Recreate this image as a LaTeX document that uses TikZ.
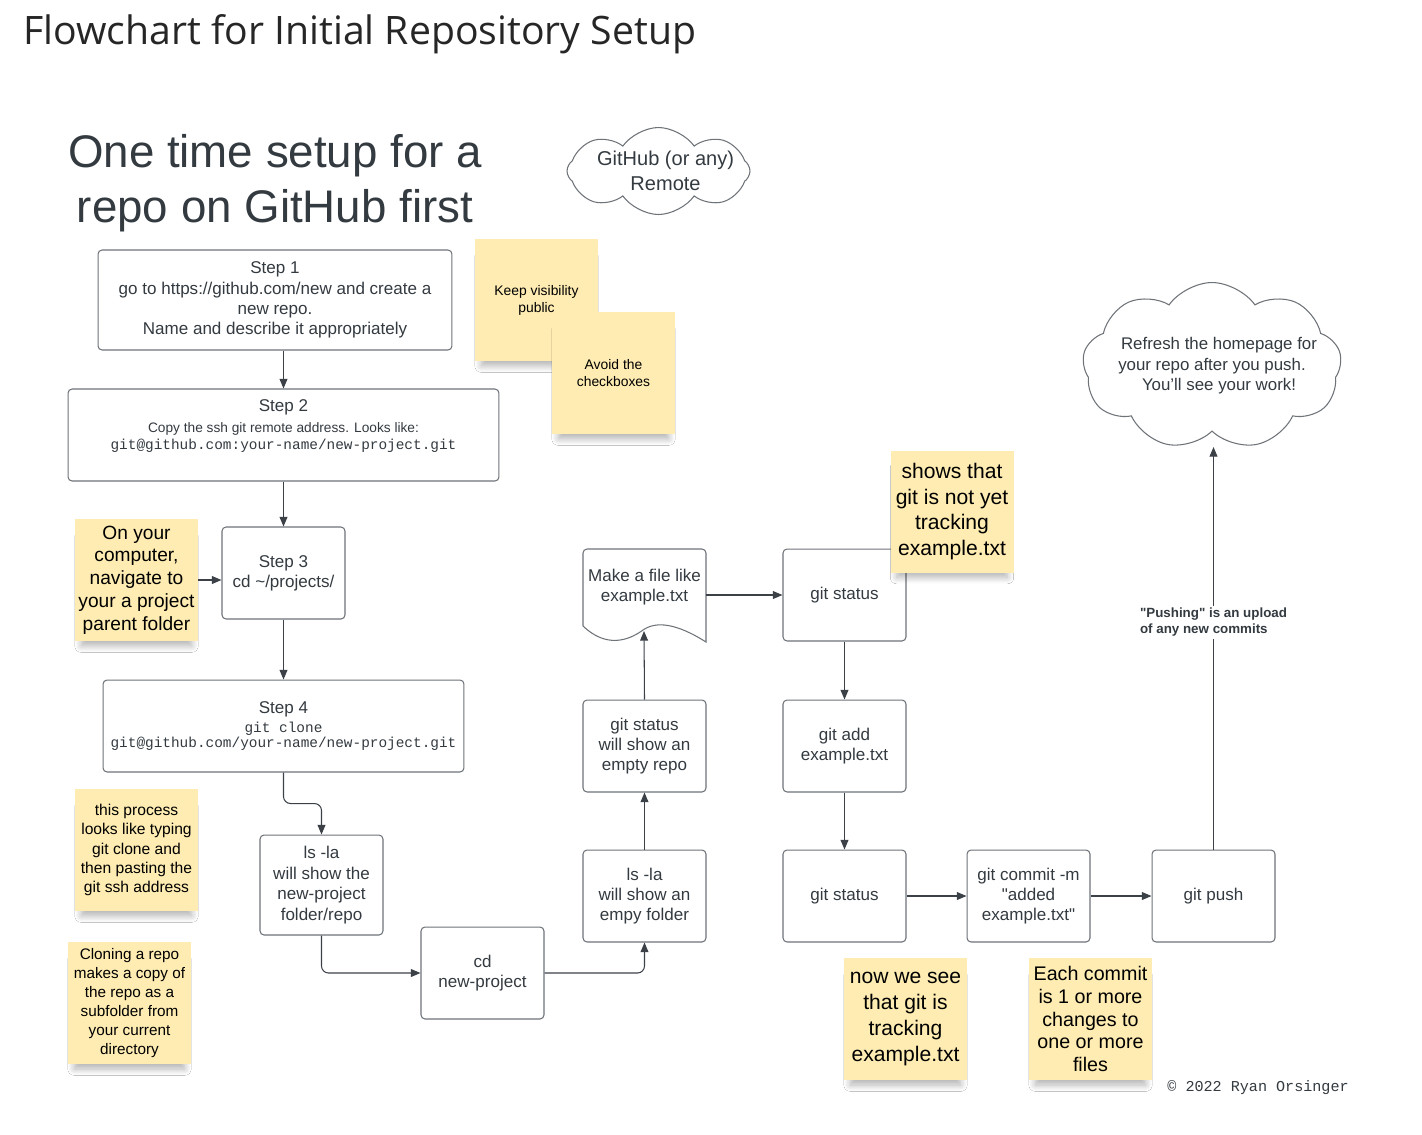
\documentclass[tikz,border=0pt]{standalone}
\usepackage{fontspec}
\setmainfont{Liberation Sans}
\setmonofont{Liberation Mono}
\newfontfamily\titlefont{Open Sans}
\usetikzlibrary{shapes.symbols,arrows.meta,shadows.blur}
\definecolor{ink}{HTML}{333A40}
\definecolor{edge}{HTML}{6E7378}
\definecolor{wire}{HTML}{3C4148}
\definecolor{sticky}{RGB}{254,236,178}
\tikzset{
  box/.style={draw=edge, line width=0.6pt, rounded corners=2.3pt, fill=white, align=center, text=ink,
    inner sep=0pt, minimum width=2.46cm, minimum height=1.84cm, font=\fontsize{9.7}{11.6}\selectfont},
  note/.style={fill=sticky, align=center, text=black, inner sep=0pt, minimum width=2.46cm, minimum height=2.44cm,
    blur shadow={shadow xshift=0pt, shadow yshift=-7pt, shadow scale=0.9, shadow blur steps=12,
      shadow blur radius=4pt, shadow opacity=30}},
  puff/.style={cloud, cloud puff arc=110, cloud ignores aspect, draw=edge, line width=0.6pt,
    fill=white, align=center, text=ink, inner xsep=-14pt, inner ysep=0pt},
  arr/.style={draw=wire, line width=0.6pt, -{Triangle[length=5.5pt,width=4.5pt]}},
}
\begin{document}
\begin{tikzpicture}[x=0.02cm, y=-0.02cm]
    \fill[white] (0,0) rectangle (1422,1134);
    \useasboundingbox (0,0) rectangle (1422,1134);

    \node[anchor=base west, inner sep=0pt, font=\titlefont\fontsize{22.3}{26}\selectfont, text=black!85] (title) at (23,44) {Flowchart for Initial Repository Setup};
    \node[align=center, inner sep=0pt, font=\fontsize{26}{31}\selectfont, text=ink] (heading) at (275,183) {One time setup for a\\repo on GitHub first};
    \node[puff, cloud puffs=8, minimum width=3.66cm, minimum height=1.74cm, font=\fontsize{11.4}{14}\selectfont] (remote) at (658.5,171) {\hspace*{8pt}GitHub (or any)\\\hspace*{8pt}Remote};

    \node[box, minimum width=7.08cm, minimum height=2.0cm] (step1) at (275,300) {Step 1\\go to https://github.com/new and create a\\new repo.\\Name and describe it appropriately};
    \node[box, minimum width=8.62cm] (step2) at (283.5,435) {Step 2\\{\fontsize{7.8}{9}\selectfont Copy the ssh git remote address. Looks like:}\\[-1.5pt]
        {\ttfamily\fontsize{8.2}{10}\selectfont git@github.com:your-name/new-project.git}\\ \mbox{}};
    \node[box] (step3) at (283.5,573) {Step 3\\cd \textasciitilde/projects/};
    \node[box, minimum width=7.22cm] (step4) at (283.5,726) {Step 4\\[-1pt]{\ttfamily\fontsize{8.2}{10}\selectfont git clone}\\[-3pt]
        {\ttfamily\fontsize{8.2}{10}\selectfont git@github.com/your-name/new-project.git}};

    \node[box, minimum height=2.0cm] (lsrepo) at (321.5,885) {ls -la\\will show the\\new-project\\folder/repo};
    \node[box] (cdproj) at (482.5,973) {cd\\new-project};
    \node[box] (lsempty) at (644.5,896) {ls -la\\will show an\\empy folder};
    \node[box] (gsempty) at (644.5,746) {git status\\will show an\\empty repo};

    \draw[draw=edge, line width=0.6pt, fill=white, rounded corners=2.3pt] (583,626) -- (583,549) -- (706,549) [sharp corners] -- (706,642)
        .. controls (676,623) and (656,621) .. (643,630) .. controls (628,641) and (606,648) .. (583,626);
    \node[align=center, inner sep=0pt, minimum width=2.46cm, text=ink, font=\fontsize{9.7}{11.6}\selectfont] (mkfile) at (644.5,587) {Make a file like\\example.txt};
    \coordinate (mkfilebot) at (644,631);

    \node[box] (gstat1) at (844.5,595) {git status};
    \node[box] (gadd) at (844.5,746) {git add\\example.txt};
    \node[box] (gstat2) at (844.5,896) {git status};
    \node[box] (commit) at (1028.5,896) {git commit -m\\\textquotedbl added\\example.txt\textquotedbl};
    \node[box] (push) at (1213.5,896) {git push};
    \node[puff, cloud puffs=9, minimum width=5.18cm, minimum height=3.34cm, font=\fontsize{9.6}{11.6}\selectfont] (refresh) at (1212,366) {\hspace*{8pt}Refresh the homepage for\\your repo after you push.\\\hspace*{8pt}You'll see your work!};

    \node[note, font=\fontsize{7.9}{9.6}\selectfont] (keep) at (536.5,300) {Keep visibility\\public};
    \node[note, font=\fontsize{7.9}{9.6}\selectfont] (avoid) at (613.5,373) {Avoid the\\checkboxes};
    \node[note, font=\fontsize{10.9}{13}\selectfont] (onyour) at (136.5,580) {On your\\computer,\\navigate to\\your a project\\parent folder};
    \node[note, font=\fontsize{8.9}{11}\selectfont] (process) at (136.5,850) {this process\\looks like typing\\git clone and\\then pasting the\\git ssh address};
    \node[note, font=\fontsize{8.7}{10.8}\selectfont] (cloning) at (129.5,1003) {Cloning a repo\\makes a copy of\\the repo as a\\subfolder from\\your current\\directory};
    \node[note, font=\fontsize{12}{14.7}\selectfont] (shows) at (952,511.5) {shows that\\git is not yet\\tracking\\example.txt};
    \node[note, font=\fontsize{12}{14.7}\selectfont] (nowsee) at (905.5,1019) {now we see\\that git is\\tracking\\example.txt};
    \node[note, font=\fontsize{11.2}{13}\selectfont] (each) at (1090.5,1019) {Each commit\\is 1 or more\\changes to\\one or more\\files};

    \draw[arr] (step2.north |- step1.south) -- (step2.north);
    \draw[arr] (step2) -- (step3);
    \draw[arr] (onyour.east) -- (onyour.east -| step3.west);
    \draw[arr] (step3) -- (step4);
    \draw[arr, rounded corners=4pt] (step4.south) -- ++(0,31) -| (lsrepo.north);
    \draw[arr, rounded corners=4pt] (lsrepo.south) |- (cdproj.west);
    \draw[arr, rounded corners=4pt] (cdproj.east) -| (lsempty.south);
    \draw[arr] (lsempty) -- (gsempty);
    \draw[arr] (gsempty.north) -- (mkfilebot);
    \draw[arr] (mkfile.east |- gstat1.west) -- (gstat1.west);
    \draw[arr] (gstat1) -- (gadd);
    \draw[arr] (gadd) -- (gstat2);
    \draw[arr] (gstat2) -- (commit);
    \draw[arr] (commit) -- (push);
    \draw[arr] (push.north) -- (push.north |- 0,447)
        node[pos=0.565, fill=white, align=left, inner sep=1pt, text=ink, font=\bfseries\fontsize{7.6}{9.6}\selectfont] (pushing) {\textquotedbl Pushing\textquotedbl{} is an upload\\of any new commits};

    \node[anchor=west, inner sep=0pt, text=ink, font=\ttfamily\fontsize{8.6}{10}\selectfont] (credit) at (1167,1088) {© 2022 Ryan Orsinger};
\end{tikzpicture}
\end{document}
